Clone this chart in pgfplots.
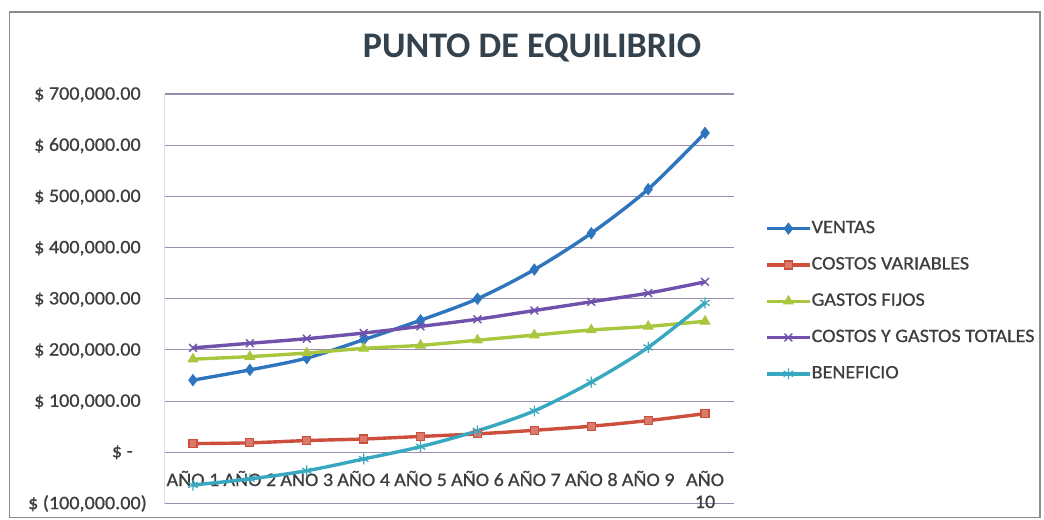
\documentclass[border=0pt]{standalone}
\usepackage{pgfplots}
\pgfplotsset{compat=1.18}
\usepackage{fontspec}
\setmainfont{Carlito}
\newfontfamily\lbl{Carlito}[FakeStretch=1.06, FakeBold=0.8]

\definecolor{cVentas}{RGB}{46,117,190}
\definecolor{cVar}{RGB}{205,78,58}
\definecolor{cFijos}{RGB}{168,198,62}
\definecolor{cTot}{RGB}{112,82,172}
\definecolor{cBen}{RGB}{55,168,192}
\definecolor{gridc}{RGB}{150,142,172}
\definecolor{axisc}{RGB}{165,165,165}
\definecolor{framec}{RGB}{140,140,140}
\definecolor{textc}{RGB}{62,62,62}
\definecolor{titlec}{RGB}{52,66,78}

% two-line category label whose baseline is its first line
\newcommand{\twoline}[2]{\begin{tabular}[t]{@{}c@{}}#1\\#2\end{tabular}}

\begin{document}
\begin{tikzpicture}
\useasboundingbox (0bp,0bp) rectangle (1044bp,520bp);
% chart frame
\draw[framec, line width=1.3bp] (9.5bp,2.5bp) rectangle (1040bp,508bp);
% title
\node[anchor=base, inner sep=0pt, text=titlec, font=\bfseries\fontsize{36bp}{40bp}\selectfont] at (532bp,462bp) {PUNTO DE EQUILIBRIO};

\begin{axis}[
  at={(164.5bp,16.5bp)}, anchor=south west,
  scale only axis, width=569bp, height=409.5bp,
  xmin=0.5, xmax=10.5, ymin=-100000, ymax=700000,
  scaled y ticks=false,
  xtick={1,2,3,4,5,6,7,8,9,10},
  xticklabels={AÑO 1,AÑO 2,AÑO 3,AÑO 4,AÑO 5,AÑO 6,AÑO 7,AÑO 8,AÑO 9,{\twoline{AÑO}{10}}},
  xticklabel style={anchor=base, inner sep=0pt, yshift=17.5bp,
    text=textc, font=\lbl\fontsize{19bp}{22bp}\selectfont},
  ytick={-100000,0,100000,200000,300000,400000,500000,600000,700000},
  yticklabels={{\$ (100,000.00)},{\$ -\hspace*{14bp}},{\$ 100,000.00\phantom{)}},
    {\$ 200,000.00\phantom{)}},{\$ 300,000.00\phantom{)}},{\$ 400,000.00\phantom{)}},
    {\$ 500,000.00\phantom{)}},{\$ 600,000.00\phantom{)}},{\$ 700,000.00\phantom{)}}},
  yticklabel style={anchor=east, inner sep=0pt, xshift=-17.5bp,
    text=textc, font=\lbl\fontsize{19bp}{22bp}\selectfont},
  major tick length=0pt,
  axis line style={draw=none},
  ymajorgrids, grid style={gridc, line width=1.1bp},
  every axis plot/.append style={line width=3.4bp, smooth, tension=0.5},
  legend style={at={(axis description cs:1.0554,0.69)}, anchor=north west,
    draw=none, fill=none, inner sep=0pt, row sep=21.3bp, column sep=0pt,
    nodes={inner sep=0pt, text height=12bp, text depth=3bp},
    font=\lbl\fontsize{19bp}{21bp}\selectfont, text=textc},
  legend cell align=left,
  legend image code/.code={\draw[#1, mark repeat=2, mark phase=2]
    plot coordinates {(0bp,0bp) (21.5bp,0bp) (43bp,0bp)};},
]
% vertical axis line
\draw[axisc, line width=1bp] (axis cs:0.5,-100000) -- (axis cs:0.5,700000);

\addplot[cVentas, mark=diamond*, mark size=5.5pt, mark options={fill=cVentas, line width=1bp}]
  coordinates {(1,141000) (2,161000) (3,184000) (4,220000) (5,258000)
               (6,300000) (7,357000) (8,428000) (9,514000) (10,624000)};
\addlegendentry{VENTAS}

\addplot[cVar, mark=square*, mark size=4pt, mark options={fill=cVar!75!white, draw=cVar, line width=1.2bp}]
  coordinates {(1,17000) (2,18500) (3,23000) (4,26000) (5,31000)
               (6,36000) (7,43000) (8,51000) (9,62000) (10,75500)};
\addlegendentry{COSTOS VARIABLES}

\addplot[cFijos, mark=triangle*, mark size=5.5pt, mark options={fill=cFijos, line width=1bp}]
  coordinates {(1,182000) (2,187000) (3,194000) (4,203000) (5,209000)
               (6,219000) (7,229000) (8,239000) (9,246000) (10,256000)};
\addlegendentry{GASTOS FIJOS}

\addplot[cTot, mark=x, mark size=5.5pt, mark options={line width=1.4bp}]
  coordinates {(1,204000) (2,213000) (3,222000) (4,233000) (5,246000)
               (6,260000) (7,277000) (8,294000) (9,311000) (10,333000)};
\addlegendentry{COSTOS Y GASTOS TOTALES}

\addplot[cBen, mark=asterisk, mark size=5.5pt, mark options={line width=1.2bp}]
  coordinates {(1,-64000) (2,-52000) (3,-36000) (4,-13000) (5,11000)
               (6,42000) (7,81000) (8,137000) (9,205000) (10,292000)};
\addlegendentry{BENEFICIO}
\end{axis}
\end{tikzpicture}
\end{document}
